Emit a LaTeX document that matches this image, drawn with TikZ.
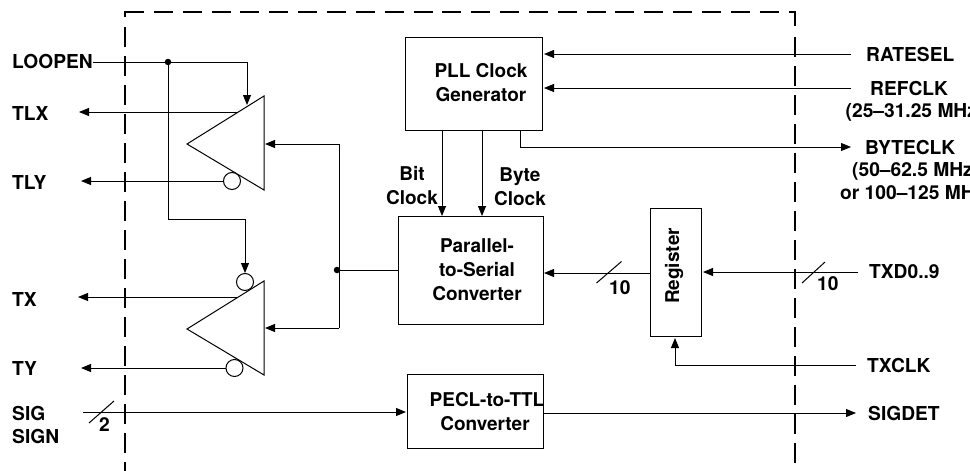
\documentclass[tikz,border=0pt]{standalone}
\usepackage{fontspec}
\setmainfont{TeX Gyre Heros}
\usetikzlibrary{arrows.meta,calc}
\tikzset{
  x=1pt,y=-1pt,
  wire/.style={line width=1pt,draw=black},
  arr/.style={wire,-{Triangle[length=10pt,width=8pt]}},
  frame/.style={line width=2.4pt,draw=black},
  blockbox/.style={draw=black,line width=1pt,minimum width=#1,inner sep=0pt,anchor=north west},
  lab/.style={font=\fontsize{19.2}{23}\selectfont\bfseries,inner sep=0pt,anchor=west},
  clab/.style={font=\fontsize{19}{24}\selectfont\bfseries,inner sep=0pt,align=center},
  bubble/.style={circle,draw=black,fill=white,line width=1pt,minimum size=17pt,inner sep=0pt},
  junction/.style={circle,fill=black,minimum size=6.5pt,inner sep=0pt},
  tri/.style={draw=black,line width=1pt,line join=miter},
}
\begin{document}
\begin{tikzpicture}
\useasboundingbox (0,0) rectangle (970,471);
\clip (0,0) rectangle (970,471);
% frame
\draw[frame,dash pattern=on 19pt off 9.85pt] (125,12) -- (795,12);
\draw[frame] (125,17) -- (125,12) -- (130,12);
\draw[frame] (790,12) -- (795,12) -- (795,26);
\draw[frame,dash pattern=on 19.5pt off 9.5pt] (125,27) -- (125,471);
\draw[frame,dash pattern=on 19.5pt off 9.5pt] (795,37) -- (795,471);
% blocks
\node[blockbox=137pt,minimum height=93pt] (pll) at (405,37) {};
\node[clab] at (481,83) {PLL Clock\\Generator};
\node[blockbox=145.5pt,minimum height=108pt] (pts) at (397.5,216) {};
\node[clab] at (477,270) {Parallel-\\to-Serial\\Converter};
\node[blockbox=51pt,minimum height=128pt] (reg) at (650,208) {};
\node[clab,rotate=90] at (674,266) {Register};
\node[blockbox=136pt,minimum height=74pt] (pecl) at (407,374) {};
\node[clab] (pecltxt) at (487,400) {PECL-to-TTL};
\node[clab] (pecltxb) at (485,424) {Converter};
% triangles
\coordinate (t1a) at (187,144); \coordinate (t1t) at (264,96); \coordinate (t1b) at (264,190);
\coordinate (t2a) at (187,329); \coordinate (t2t) at (264,281); \coordinate (t2b) at (264,375);
\draw[tri] (t1a) -- (t1t) -- (t1b) -- cycle;
\draw[tri] (t2a) -- (t2t) -- (t2b) -- cycle;
% labels
\node[lab] (loopen) at (12,62) {LOOPEN};
\node[lab] (tlx) at (12,114) {TLX};
\node[lab] (tly) at (12,182) {TLY};
\node[lab] (tx) at (12,299) {TX};
\node[lab] (ty) at (12,368) {TY};
\node[lab] (sig) at (12,413) {SIG};
\node[lab] (sign) at (12,436) {SIGN};
\node[lab] (ratesel) at (866,55) {RATESEL};
\node[lab] (refclk) at (870,89) {REFCLK};
\node[lab] (refhz) at (845.5,112) {(25–31.25 MHz)};
\node[lab] (byteclk) at (865,148) {BYTECLK};
\node[lab] (bytehz) at (852,171) {(50–62.5 MHz)};
\node[lab] (bytehzb) at (840,194) {or 100–125 MHz)};
\node[lab] (txd) at (869,272) {TXD0..9};
\node[lab] (txclk) at (867,365) {TXCLK};
\node[lab] (sigdet) at (868,413) {SIGDET};
\node[clab] (bitclk) at (412,185.5) {Bit\\Clock};
\node[clab] (byteck) at (520,186.5) {Byte\\Clock};
\node[lab] (n2) at (99,425) {2};
\node[lab] (n10a) at (609,288) {10};
\node[lab] (n10b) at (817,284) {10};
% bubbles and junctions
\node[bubble] (b1) at (232,181) {};
\node[bubble] (b2) at (245,282) {};
\node[bubble] (b3) at (234.5,368) {};
\node[junction] (j1) at (168,62) {};
\node[junction] (j2) at (337,270) {};
% connectors left
\draw[arr] (loopen.east) -- (j1) -| (247,105);
\draw[wire] (j1) |- (245,219);
\draw[arr] (245,219) -- (b2.north);
\coordinate (tlxe) at (237,112); \coordinate (tlxf) at (79,112);
\draw[arr] (tlxe) -- (tlxf);
\coordinate (tlyf) at (81,181);
\draw[arr] (b1.west) -- (tlyf);
\coordinate (txe) at (238,297); \coordinate (txf) at (78,297);
\draw[arr] (txe) -- (txf);
\coordinate (tyf) at (81,368);
\draw[arr] (b3.west) -- (tyf);
% feed
\coordinate (f1) at (339,144); \coordinate (f2) at (339,328);
\draw[arr] (f1) -- (265,144);
\draw[arr] (f2) -- (265,328);
\draw[wire] (f1) -- (f2);
\draw[wire] (j2) -- (pts.west |- j2);
% pll
\coordinate (pllin) at (851,54); \coordinate (refin) at (851,88);
\draw[arr] (pllin) -- (544,54);
\draw[arr] (refin) -- (544,88);
\draw[arr] (520,130) |- (851,147);
\draw[arr] (442,130) -- (442,216);
\draw[arr] (482,130) -- (482,216);
% data
\draw[arr] (650,273) -- (544,273);
\draw[wire] (596.5,283) -- (621.5,261.5);
\draw[arr] (858,272) -- (703,272);
\draw[wire] (802,283) -- (825,262);
\draw[arr] (856,365) -| (675,338);
\draw[arr] (83,412) -- (406,412);
\draw[wire] (89,423) -- (114,401);
\draw[arr] (543,413) -- (856,413);
\end{tikzpicture}
\end{document}
